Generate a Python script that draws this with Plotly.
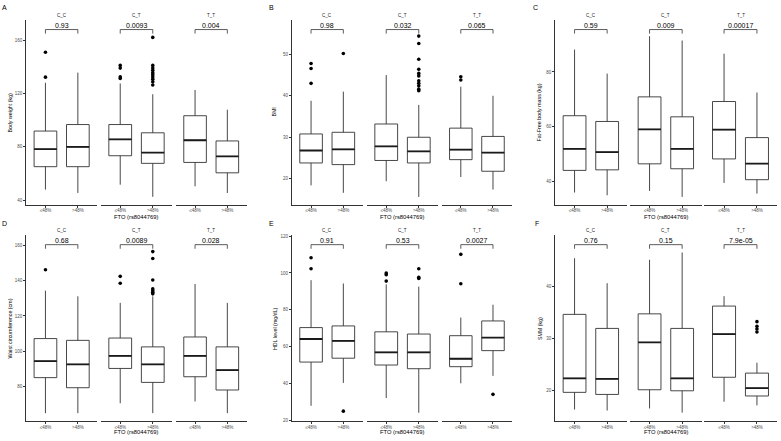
import plotly.graph_objects as go

W, H = 781, 441
FONT = "Liberation Sans, Arial, sans-serif"

GENOTYPES = ["C_C", "C_T", "T_T"]
CATS = ["≤48%", ">48%"]
X_TITLE = "FTO (rs8044769)"
LETTERS = ["A", "B", "C", "D", "E", "F"]
Y_TITLES = ["Body weight (kg)", "BMI", "Fat-Free body mass (kg)",
            "Waist circumference (cm)", "HDL level (mg/dL)", "SMM (kg)"]

# order of each list: C_C ≤48%, C_C >48%, C_T ≤48%, C_T >48%, T_T ≤48%, T_T >48%
weight_low = [47.9, 45.4, 51.6, 42.5, 50.4, 45.4]
weight_q1 = [65.1, 65.1, 73.3, 67.6, 68.3, 60.5]
weight_med = [78.2, 79.9, 85.6, 75.7, 84.9, 72.8]
weight_q3 = [91.8, 96.7, 96.7, 90.5, 103.3, 84.4]
weight_high = [128.0, 135.6, 127.5, 119.4, 122.6, 107.8]
weight_out = [[132.2, 150.9], [], [131.2, 132.4, 139.0, 141.0],
              [126.3, 128.7, 130.7, 132.4, 134.1, 135.6, 137.4, 139.1, 141.0, 162.0], [], []]
weight_p = ["0.93", "0.0093", "0.004"]

bmi_low = [18.4, 16.6, 19.4, 15.6, 20.4, 17.4]
bmi_q1 = [23.8, 23.4, 24.4, 23.8, 24.6, 21.8]
bmi_med = [26.8, 27.1, 27.8, 26.6, 27.0, 26.3]
bmi_q3 = [30.8, 31.2, 33.2, 30.0, 32.2, 30.2]
bmi_high = [38.8, 41.0, 45.0, 37.8, 42.2, 40.0]
bmi_out = [[43.0, 46.6, 47.8], [50.2], [],
           [41.2, 41.6, 42.4, 43.0, 43.6, 44.8, 45.4, 46.4, 48.8, 52.6, 54.4], [43.8, 44.6], []]
bmi_p = ["0.98", "0.032", "0.065"]

ffm_low = [35.9, 34.9, 36.5, 34.3, 39.4, 35.5]
ffm_q1 = [44.0, 44.2, 46.4, 44.6, 48.2, 40.6]
ffm_med = [51.9, 50.7, 59.0, 51.9, 58.9, 46.5]
ffm_q3 = [64.0, 61.9, 70.9, 63.6, 69.2, 56.0]
ffm_high = [88.2, 79.4, 93.1, 91.5, 86.7, 72.5]
ffm_out = [[], [], [], [], [], []]
ffm_p = ["0.59", "0.009", "0.00017"]

waist_low = [65.0, 65.0, 70.6, 65.0, 71.6, 65.0]
waist_q1 = [85.1, 79.4, 90.3, 82.4, 85.6, 78.1]
waist_med = [94.4, 92.6, 97.4, 92.6, 97.4, 89.4]
waist_q3 = [107.2, 106.2, 107.5, 102.5, 108.1, 102.5]
waist_high = [134.3, 131.1, 127.4, 131.1, 138.1, 127.4]
waist_out = [[146.1], [], [138.5, 142.4],
             [132.5, 133.4, 134.3, 135.3, 140.3, 152.5, 156.4], [], []]
waist_p = ["0.68", "0.0089", "0.028"]

hdl_low = [28.0, 40.4, 32.2, 24.2, 40.2, 44.2]
hdl_q1 = [51.7, 53.8, 50.1, 48.1, 49.2, 57.9]
hdl_med = [64.2, 63.2, 57.0, 57.0, 53.5, 65.0]
hdl_q3 = [70.4, 71.3, 68.1, 66.9, 66.0, 74.0]
hdl_high = [96.1, 94.3, 93.8, 92.6, 75.8, 82.8]
hdl_out = [[102.3, 108.3], [25.1], [95.6, 99.1, 100.0], [97.0, 97.7, 102.3], [94.2, 110.1], [34.2]]
hdl_p = ["0.91", "0.53", "0.0027"]

smm_low = [16.3, 16.1, 16.5, 15.7, 17.8, 17.1]
smm_q1 = [19.6, 19.2, 20.1, 19.9, 22.5, 18.9]
smm_med = [22.3, 22.2, 29.2, 22.3, 30.8, 20.4]
smm_q3 = [34.6, 31.9, 34.7, 31.9, 36.2, 23.3]
smm_high = [45.4, 40.6, 45.1, 46.5, 38.1, 25.3]
smm_out = [[], [], [], [], [], [31.2, 31.8, 32.3, 33.2]]
smm_p = ["0.76", "0.15", "7.9e-05"]

Y_RANGES = [[36.5, 174.8], [13.7, 58.2], [31.4, 98.9],
            [60.3, 165.6], [19.5, 120.4], [14.0, 49.8]]
Y_DTICK = [40, 10, 20, 20, 20, 10]

PANELS = [
    (weight_low, weight_q1, weight_med, weight_q3, weight_high, weight_out, weight_p),
    (bmi_low, bmi_q1, bmi_med, bmi_q3, bmi_high, bmi_out, bmi_p),
    (ffm_low, ffm_q1, ffm_med, ffm_q3, ffm_high, ffm_out, ffm_p),
    (waist_low, waist_q1, waist_med, waist_q3, waist_high, waist_out, waist_p),
    (hdl_low, hdl_q1, hdl_med, hdl_q3, hdl_high, hdl_out, hdl_p),
    (smm_low, smm_q1, smm_med, smm_q3, smm_high, smm_out, smm_p),
]

# ---- layout geometry (pixels) ----
COL_FACETS = [[(26, 97.3), (100.7, 172.3), (175.7, 246.7)],
              [(291.7, 362.7), (366.7, 438.3), (441.5, 512.3)],
              [(555, 626.7), (630, 701.7), (704.3, 776.7)]]
ROW_Y = [(18.5, 204.7), (235.5, 423.3)]
STRIP_Y = [14, 231]
XTITLE_Y = [216.5, 434]
LETTER_POS = [(4.7, 6), (271, 5.5), (535.5, 5.5), (4.7, 223.3), (271, 223.3), (536.5, 223.3)]
YTITLE_X = [10, 274, 539, 10, 275.7, 540.7]

BOX_W = 0.7
LINE_C = "#333333"
AXIS_C = "#333333"
TICK_C = "#4d4d4d"


def px(x):
    return x / W


def py(y):
    return 1 - y / H


fig = go.Figure()
layout = dict(width=W, height=H, autosize=False,
              margin=dict(l=0, r=0, t=0, b=0),
              paper_bgcolor="white", plot_bgcolor="white",
              showlegend=False, font=dict(family=FONT, color="black"))
annotations = []
shapes = []

for p, (lo, q1, med, q3, hi, outs, pvals) in enumerate(PANELS):
    row, col = divmod(p, 3)
    yi = p + 1
    yname = "y" if yi == 1 else f"y{yi}"
    ykey = "yaxis" if yi == 1 else f"yaxis{yi}"
    ymin, ymax = Y_RANGES[p]
    y0p, y1p = ROW_Y[row]
    first_x = "x" if p == 0 else f"x{p * 3 + 1}"
    layout[ykey] = dict(domain=[py(y1p), py(y0p)], anchor=first_x, range=[ymin, ymax],
                        tick0=0, dtick=Y_DTICK[p], showline=True, linecolor=AXIS_C,
                        linewidth=0.8, ticks="outside", ticklen=2, tickwidth=0.8,
                        tickcolor=AXIS_C, tickfont=dict(size=4.5, color=TICK_C),
                        showgrid=False, zeroline=False, fixedrange=True)
    for f in range(3):
        xi = p * 3 + f + 1
        xname = "x" if xi == 1 else f"x{xi}"
        xkey = "xaxis" if xi == 1 else f"xaxis{xi}"
        a, b = COL_FACETS[col][f]
        layout[xkey] = dict(domain=[px(a), px(b)], anchor=yname, range=[0.4, 2.6],
                            tickvals=[1, 2], ticktext=CATS, showline=True,
                            linecolor=AXIS_C, linewidth=0.8, ticks="outside",
                            ticklen=2, tickwidth=0.8, tickcolor=AXIS_C,
                            ticklabelstandoff=-1,
                            tickfont=dict(size=4.5, color=TICK_C),
                            showgrid=False, zeroline=False, fixedrange=True)
        idx = [2 * f, 2 * f + 1]
        fig.add_trace(go.Box(
            x=[1, 2], q1=[q1[i] for i in idx], median=[med[i] for i in idx],
            q3=[q3[i] for i in idx], lowerfence=[lo[i] for i in idx],
            upperfence=[hi[i] for i in idx], width=BOX_W, whiskerwidth=0,
            fillcolor="white", line=dict(color=LINE_C, width=0.9),
            boxpoints=False, hoverinfo="skip", xaxis=xname, yaxis=yname))
        # thicker median line (ggplot style)
        mx, my = [], []
        for k, i in enumerate(idx):
            mx += [k + 1 - BOX_W / 2, k + 1 + BOX_W / 2, None]
            my += [med[i], med[i], None]
        fig.add_trace(go.Scatter(x=mx, y=my, mode="lines",
                                 line=dict(color="#1a1a1a", width=1.8),
                                 hoverinfo="skip", xaxis=xname, yaxis=yname))
        ox, oy = [], []
        for k, i in enumerate(idx):
            ox += [k + 1] * len(outs[i])
            oy += outs[i]
        if ox:
            fig.add_trace(go.Scatter(x=ox, y=oy, mode="markers",
                                     marker=dict(color="black", size=3.6),
                                     hoverinfo="skip", xaxis=xname, yaxis=yname))
        # comparison bracket + p value
        yt = ymin + 0.95 * (ymax - ymin)
        yb = ymin + 0.928 * (ymax - ymin)
        shapes.append(dict(type="path", xref=xname, yref=yname,
                           path=f"M 1,{yb} L 1,{yt} L 2,{yt} L 2,{yb}",
                           line=dict(color="#333333", width=0.8)))
        annotations.append(dict(x=1.5, y=yt, xref=xname, yref=yname, text=pvals[f],
                                showarrow=False, yanchor="bottom", xanchor="center",
                                font=dict(size=7, color="black"), yshift=-1))
        # facet strip label
        annotations.append(dict(x=0.5, xref=f"{xname} domain", y=py(STRIP_Y[row]),
                                yref="paper", text=GENOTYPES[f], showarrow=False,
                                xanchor="center", yanchor="middle",
                                font=dict(size=4.5, color="#1a1a1a")))
    # x title
    left = COL_FACETS[col][0][0]
    right = COL_FACETS[col][2][1]
    annotations.append(dict(x=px((left + right) / 2), y=py(XTITLE_Y[row]), xref="paper",
                            yref="paper", text=X_TITLE, showarrow=False,
                            xanchor="center", yanchor="middle",
                            font=dict(size=5.8, color="black")))
    # y title
    annotations.append(dict(x=px(YTITLE_X[p]), y=py((y0p + y1p) / 2), xref="paper",
                            yref="paper", text=Y_TITLES[p], showarrow=False,
                            textangle=-90, xanchor="center", yanchor="middle",
                            font=dict(size=5.3, color="black")))
    # panel letter
    lx, ly = LETTER_POS[p]
    annotations.append(dict(x=px(lx), y=py(ly), xref="paper", yref="paper",
                            text=LETTERS[p], showarrow=False, xanchor="center",
                            yanchor="middle", font=dict(size=7, color="black")))

layout["annotations"] = annotations
layout["shapes"] = shapes
fig.update_layout(**layout)
fig.write_html("out.html", config={"displayModeBar": False},
               post_script="document.body.style.margin='0px';"
                           "document.body.style.overflow='hidden';")
